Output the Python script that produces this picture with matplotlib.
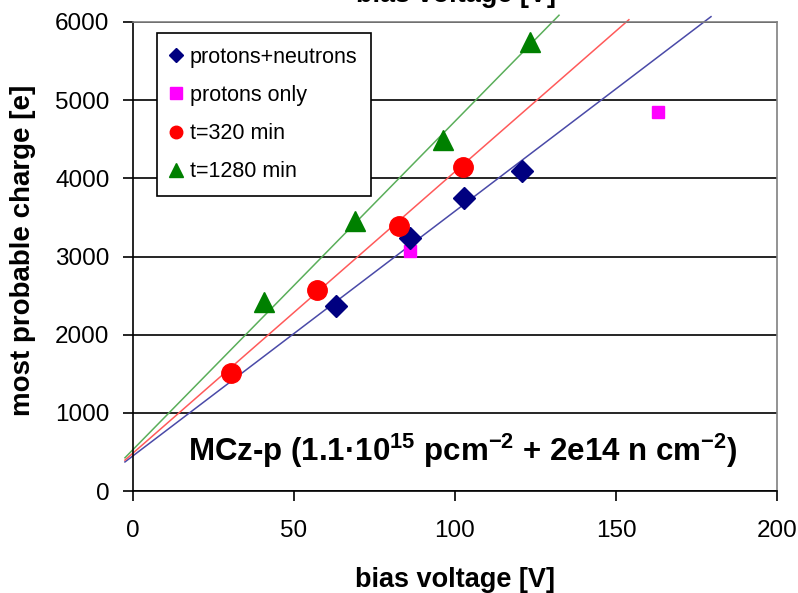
import numpy as np
import matplotlib
matplotlib.use("Agg")
from matplotlib import pyplot as plt
from matplotlib.lines import Line2D

plt.rcParams['font.family'] = ['Liberation Sans', 'DejaVu Sans']
plt.rcParams['mathtext.fontset'] = 'custom'
plt.rcParams['mathtext.rm'] = 'Liberation Sans'
plt.rcParams['mathtext.bf'] = 'Liberation Sans:bold'

# Measured most probable charge vs bias voltage
pn_voltage = [63, 86, 102.8, 120.8]          # protons+neutrons
pn_charge = [2370, 3240, 3745, 4090]
p_voltage = [86, 163]                        # protons only
p_charge = [3065, 4850]
t320_voltage = [30.4, 57.2, 82.7, 102.6]     # annealed t=320 min
t320_charge = [1505, 2575, 3385, 4145]
t1280_voltage = [40.7, 69, 96.4, 123.3]      # annealed t=1280 min
t1280_charge = [2415, 3460, 4490, 5745]

# Linear trend lines: (slope [e/V], offset [e], last voltage [V])
pn_trend = (31.3, 450, 179.5)
t320_trend = (36.0, 485, 154.0)
t1280_trend = (42.0, 530, 132.3)

x_ticks = [0, 50, 100, 150, 200]
y_ticks = [0, 1000, 2000, 3000, 4000, 5000, 6000]

NAVY = '#000080'
MAGENTA = '#ff00ff'
RED = '#ff0000'
GREEN = '#008000'


def trend(ax, coeffs, color):
    slope, offset, v_end = coeffs
    v = np.array([-2.5, v_end])
    ax.plot(v, slope * v + offset, color=color, lw=1.1, clip_on=False, zorder=2)


fig = plt.figure(figsize=(7.98, 5.93), dpi=100)
ax = fig.add_axes([133 / 798, 1 - 491 / 593, 644 / 798, 469 / 593])

trend(ax, pn_trend, '#4a4aa8')
trend(ax, t320_trend, '#ff5a5a')
trend(ax, t1280_trend, '#5aae5a')

ax.plot(pn_voltage, pn_charge, 'D', color=NAVY, ms=11.5, zorder=4, clip_on=False)
ax.plot(p_voltage, p_charge, 's', color=MAGENTA, ms=9, zorder=3, clip_on=False)
ax.plot(t320_voltage, t320_charge, 'o', color=RED, ms=14, zorder=4, clip_on=False)
ax.plot(t1280_voltage, t1280_charge, '^', color=GREEN, ms=15, zorder=4, clip_on=False)

ax.set_xlim(0, 200)
ax.set_ylim(0, 6000)
ax.set_xticks(x_ticks)
ax.set_yticks(y_ticks)
ax.yaxis.grid(True, color='black', lw=1.2)
ax.set_axisbelow(True)
for side in ['top', 'right']:
    ax.spines[side].set_color('#808080')
    ax.spines[side].set_linewidth(1.2)
for side in ['left', 'bottom']:
    ax.spines[side].set_linewidth(1.2)
ax.tick_params(axis='x', direction='out', length=7, width=1.2, pad=14, labelsize=17.5)
ax.tick_params(axis='y', direction='out', length=7, width=1.2, pad=10, labelsize=17.5)

ax.set_xlabel('bias voltage [V]', fontsize=19.5, fontweight='bold', labelpad=18)
ax.set_ylabel('most probable charge [e]', fontsize=20, fontweight='bold')
ax.yaxis.set_label_coords(-0.150, 0.514)

# clipped copy of the axis title above the plot
fig.text(0.572, 1 - 1.5 / 593, 'bias voltage [V]', fontsize=19.5, fontweight='bold',
         ha='center', va='baseline')

ax.text(0.512, 0.064,
        'MCz-p (1.1·10$^{\\mathbf{15}}$ pcm$^{\\mathbf{-2}}$ + 2e14 n cm$^{\\mathbf{-2}}$)',
        transform=ax.transAxes, ha='center', va='baseline', fontsize=22.5, fontweight='bold')

handles = [
    Line2D([], [], ls='none', marker='D', color=NAVY, ms=7),
    Line2D([], [], ls='none', marker='s', color=MAGENTA, ms=8),
    Line2D([], [], ls='none', marker='o', color=RED, ms=9),
    Line2D([], [], ls='none', marker='^', color=GREEN, ms=10),
]
labels = ['protons+neutrons', 'protons only', 't=320 min', 't=1280 min']
leg = ax.legend(handles, labels, loc='upper left', bbox_to_anchor=(0.037, 0.976),
                fontsize=15.5, frameon=True, fancybox=False, framealpha=1,
                handlelength=0.5, handletextpad=0.4, labelspacing=0.8,
                borderpad=0.62, borderaxespad=0)
leg.get_frame().set_edgecolor('black')
leg.get_frame().set_linewidth(1.2)

fig.savefig('out.png', dpi=100)
